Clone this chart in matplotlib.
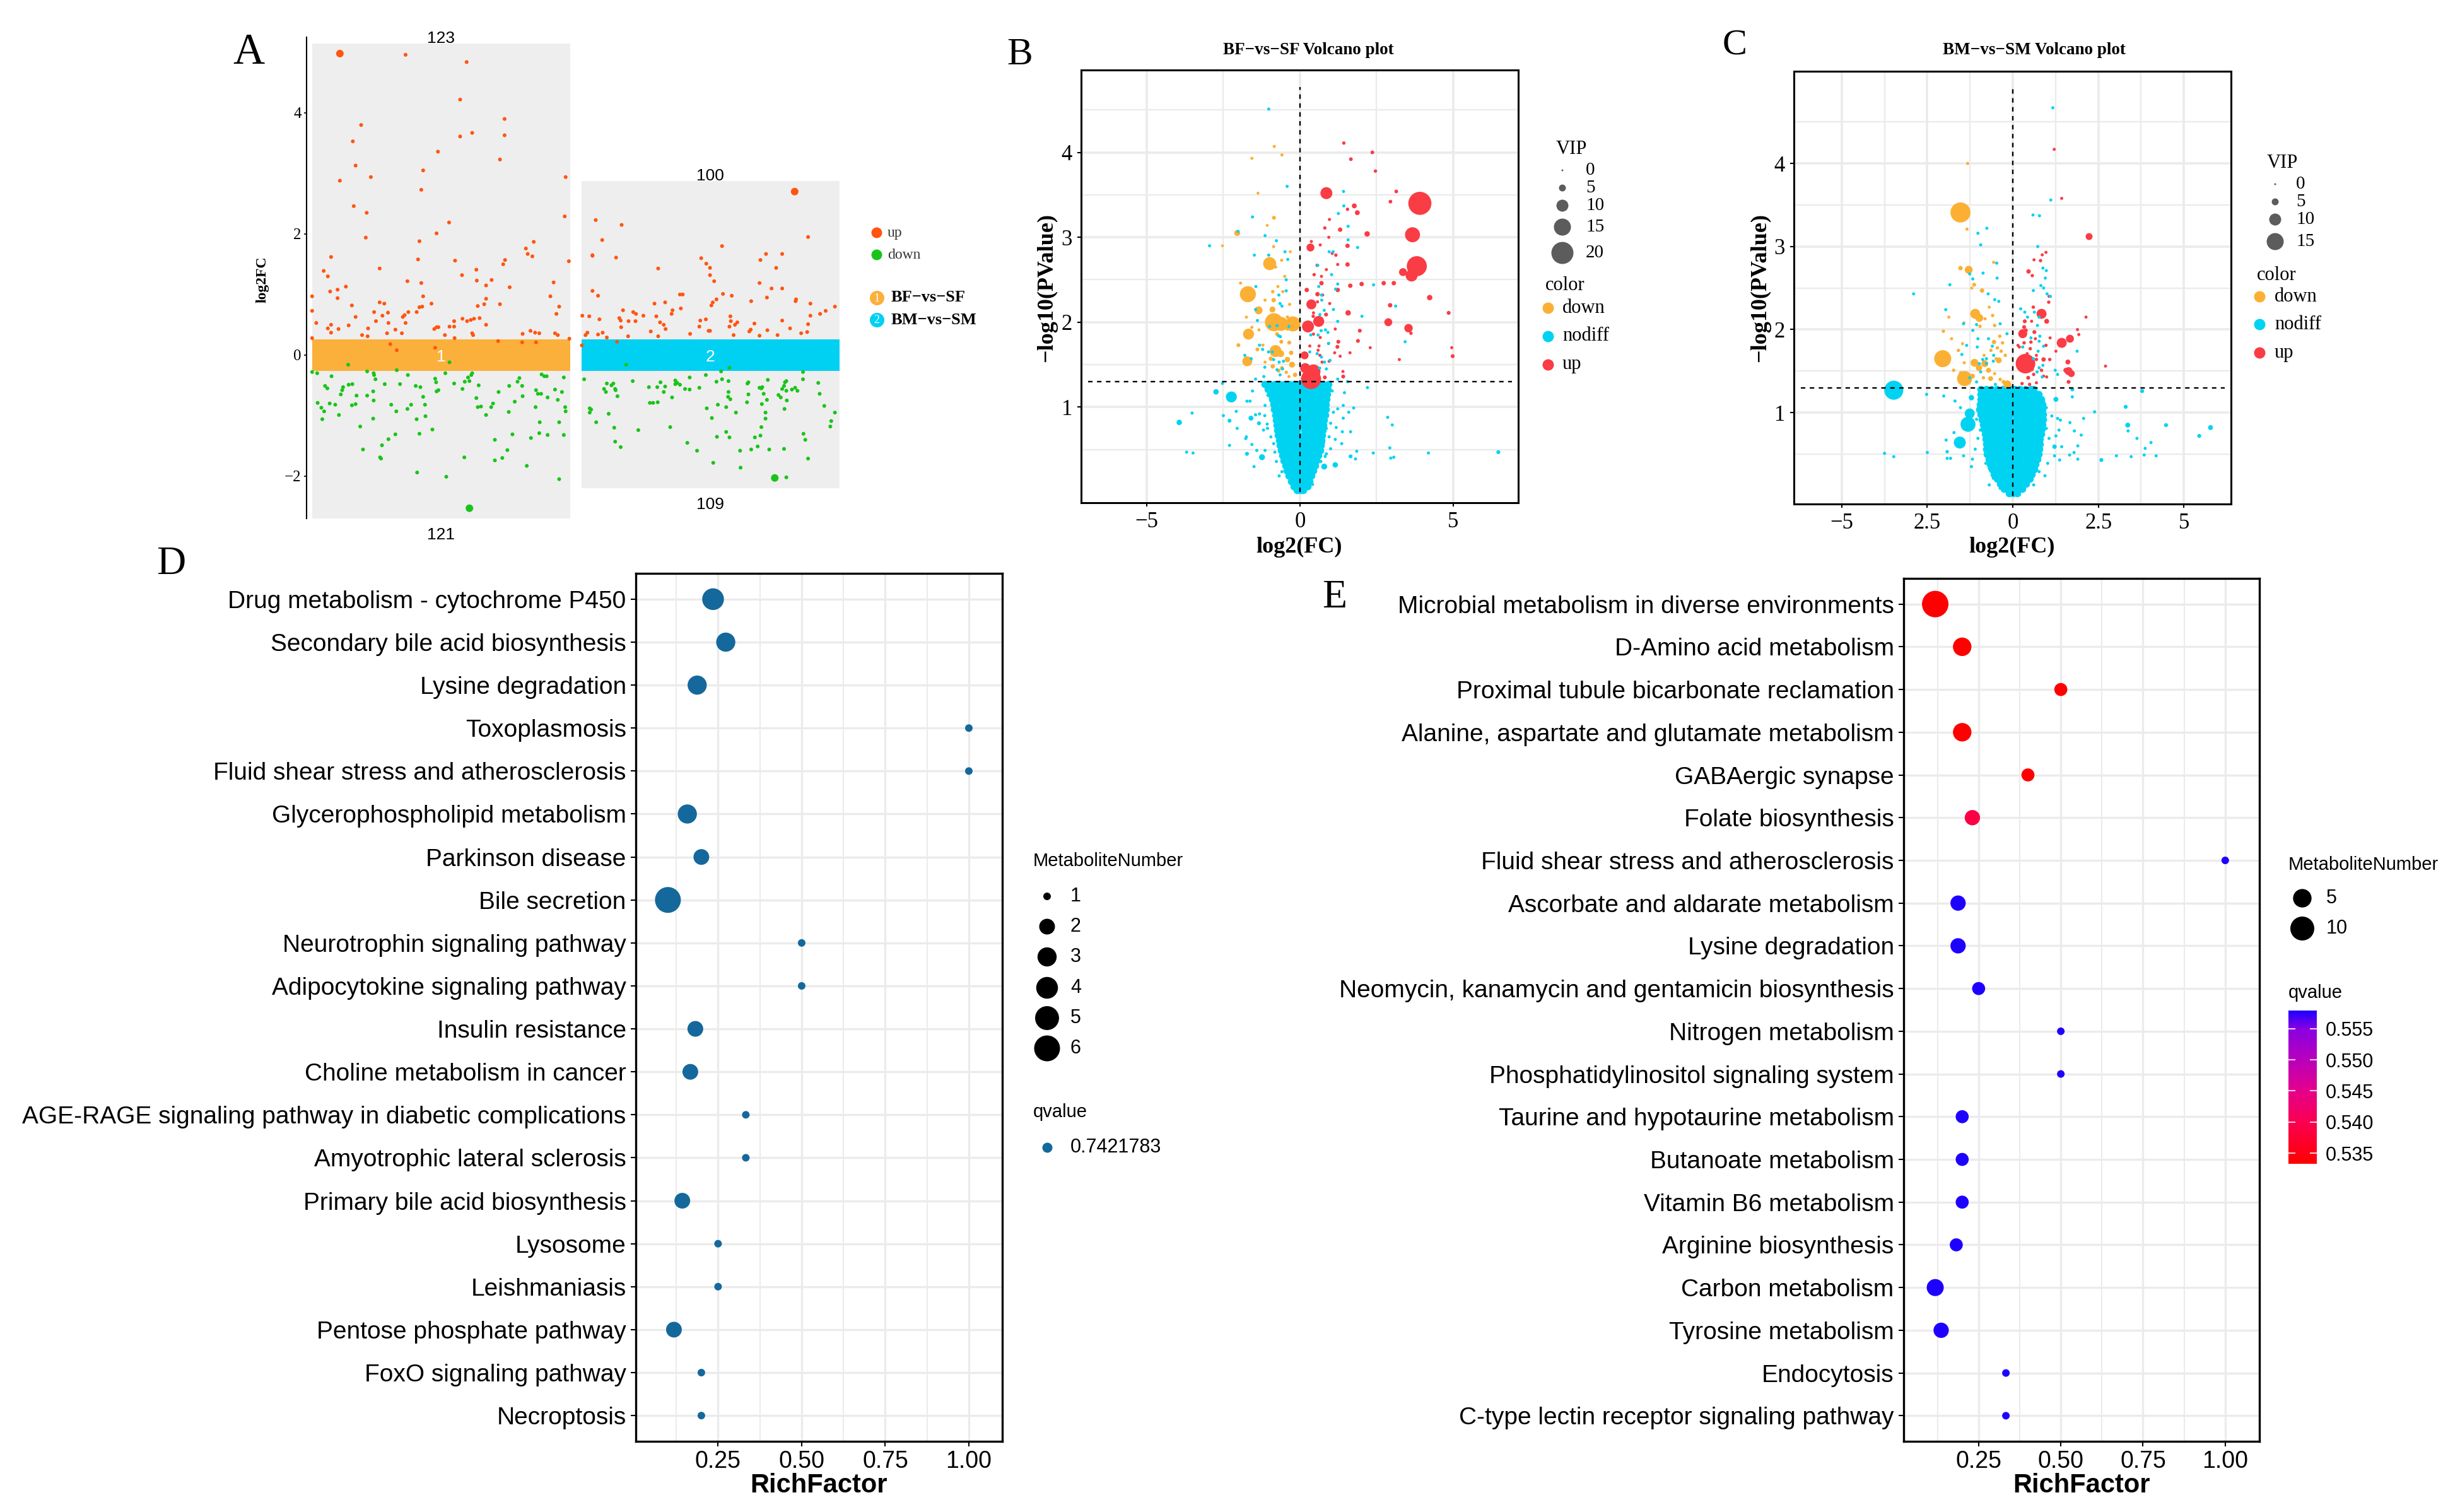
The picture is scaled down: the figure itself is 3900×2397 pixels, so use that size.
"""
Multi-panel metabolomics figure: A) up/down log2FC strip plot, B/C) volcano plots,
D/E) KEGG enrichment bubble plots.
"""

import numpy as np
import matplotlib.pyplot as plt
from matplotlib.patches import Rectangle
from matplotlib.colors import LinearSegmentedColormap, Normalize
from matplotlib.colorbar import ColorbarBase

W, H = 3900, 2397
SERIF = "Liberation Serif"
SANS = "Liberation Sans"

# ── 0. Panel A data: (metabolite index, log2FC) ───────────────────────────────
a_groups = ["BF\u2212vs\u2212SF", "BM\u2212vs\u2212SM"]
a_counts_up = [123, 100]
a_counts_down = [121, 109]

a1_up = [(60,4.98),(202,4.96),(334,4.84),(320,4.22),(106,3.80),(416,3.90),(416,3.63),(346,3.67),(320,3.61),
         (88,3.53),(272,3.36),(94,3.13),(406,3.23),(240,3.05),(127,2.94),(548,2.94),(60,2.88),(236,2.73),
         (90,2.46),(118,2.35),(546,2.29),(296,2.19),(269,2.01),(116,1.94),(232,1.88),(479,1.87),(462,1.76),
         (466,1.67),(476,1.63),(41,1.62),(309,1.56),(417,1.57),(555,1.55),(229,1.58),(413,1.50),(25,1.39),
         (34,1.30),(146,1.43),(355,1.41),(324,1.32),(356,1.23),(388,1.24),(206,1.22),(376,1.15),(73,1.13),
         (236,1.19),(427,1.12),(522,1.20),(55,1.08),(39,1.05),(0,0.97),(55,0.94),(240,0.97),(376,0.93),
         (515,0.97),(146,0.87),(156,0.85),(258,0.85),(86,0.82),(406,0.84),(372,0.84),(534,0.80),(358,0.81),
         (232,0.79),(238,0.80),(0,0.73),(134,0.71),(164,0.70),(152,0.65),(208,0.71),(226,0.71),(528,0.68),
         (200,0.66),(196,0.63),(94,0.63),(138,0.56),(325,0.60),(350,0.60),(362,0.61),(343,0.58),(335,0.56),
         (307,0.56),(9,0.53),(202,0.53),(41,0.50),(79,0.49),(165,0.53),(273,0.46),(269,0.46),(376,0.50),
         (297,0.47),(307,0.47),(34,0.44),(121,0.44),(57,0.43),(264,0.43),(41,0.37),(180,0.42),(162,0.36),
         (194,0.36),(108,0.33),(120,0.31),(287,0.33),(346,0.36),(348,0.33),(455,0.35),(472,0.40),(491,0.36),
         (525,0.36),(531,0.33),(0,0.28),(308,0.28),(556,0.27),(482,0.37),(454,0.21),(484,0.21),(402,0.23),
         (169,0.18),(266,0.12),(183,0.08)]
a1_down = [(78,-0.16),(297,-0.12),(183,-0.25),(0,-0.28),(11,-0.30),(119,-0.27),(42,-0.35),(133,-0.30),
           (134,-0.33),(207,-0.33),(288,-0.30),(346,-0.30),(344,-0.33),(337,-0.37),(266,-0.39),(330,-0.44),
           (340,-0.43),(137,-0.40),(448,-0.38),(496,-0.32),(502,-0.35),(507,-0.35),(544,-0.37),(87,-0.48),
           (79,-0.49),(157,-0.48),(190,-0.48),(268,-0.45),(307,-0.47),(360,-0.50),(444,-0.44),(28,-0.51),
           (33,-0.55),(67,-0.53),(65,-0.58),(273,-0.58),(224,-0.51),(234,-0.53),(325,-0.56),(426,-0.51),
           (454,-0.51),(484,-0.58),(525,-0.57),(132,-0.60),(269,-0.60),(403,-0.61),(488,-0.64),(495,-0.64),
           (62,-0.65),(96,-0.67),(119,-0.67),(240,-0.69),(355,-0.71),(540,-0.61),(509,-0.70),(455,-0.68),
           (531,-0.74),(438,-0.77),(133,-0.75),(12,-0.79),(38,-0.80),(86,-0.83),(94,-0.81),(50,-0.82),
           (171,-0.82),(214,-0.82),(244,-0.82),(358,-0.86),(365,-0.85),(391,-0.80),(387,-0.86),(425,-0.94),
           (483,-0.86),(547,-0.86),(20,-0.87),(26,-0.93),(206,-0.89),(182,-0.93),(548,-0.93),(22,-1.06),
           (58,-0.99),(245,-1.01),(132,-1.05),(226,-1.06),(376,-0.99),(492,-1.11),(534,-1.11),(104,-1.18),
           (260,-1.23),(491,-1.29),(509,-1.32),(544,-1.32),(433,-1.31),(180,-1.31),(232,-1.30),(473,-1.37),
           (165,-1.39),(395,-1.40),(151,-1.49),(110,-1.56),(422,-1.57),(147,-1.69),(149,-1.71),(329,-1.69),
           (395,-1.74),(411,-1.70),(464,-1.83),(227,-1.94),(290,-2.01),(534,-2.05),(340,-2.53)]
a2_up = [(1043,2.70),(613,2.23),(669,2.15),(1072,1.95),(627,1.90),(886,1.80),(606,1.65),(606,1.64),(657,1.61),
         (981,1.67),(1016,1.67),(841,1.60),(852,1.51),(860,1.44),(969,1.57),(1003,1.44),(748,1.43),(860,1.32),
         (869,1.22),(967,1.19),(993,1.10),(1016,1.10),(606,1.06),(618,0.98),(888,1.01),(907,0.98),(795,1.00),
         (801,1.00),(983,0.95),(874,0.92),(1045,0.89),(1046,0.92),(866,0.87),(863,0.82),(949,0.89),(740,0.85),
         (763,0.87),(797,0.77),(779,0.74),(1077,0.85),(1130,0.80),(672,0.74),(694,0.71),(700,0.68),(584,0.65),
         (599,0.64),(716,0.65),(744,0.64),(777,0.68),(904,0.64),(1110,0.73),(1098,0.68),(1077,0.65),(839,0.57),
         (851,0.59),(664,0.61),(667,0.57),(621,0.59),(684,0.56),(699,0.56),(752,0.54),(919,0.54),(914,0.50),
         (905,0.56),(956,0.52),(1016,0.57),(1072,0.51),(760,0.50),(668,0.46),(837,0.47),(902,0.47),(948,0.42),
         (1033,0.44),(984,0.41),(732,0.39),(764,0.43),(857,0.40),(860,0.40),(945,0.39),(1070,0.38),(1057,0.36),
         (595,0.37),(618,0.34),(628,0.37),(1006,0.33),(817,0.35),(591,0.33),(748,0.31),(911,0.33),(967,0.32),
         (683,0.31),(637,0.29),(659,0.22),(583,0.16)]
a2_down = [(679,-0.16),(902,-0.21),(884,-0.27),(1061,-0.28),(588,-0.40),(693,-0.43),(816,-0.37),(785,-0.42),
           (851,-0.33),(886,-0.40),(874,-0.44),(900,-0.43),(943,-0.45),(941,-0.47),(985,-0.41),(1022,-0.45),
           (1025,-0.43),(1061,-0.40),(1094,-0.46),(637,-0.47),(651,-0.47),(647,-0.50),(728,-0.53),(753,-0.45),
           (746,-0.53),(763,-0.52),(785,-0.48),(789,-0.46),(795,-0.49),(837,-0.54),(967,-0.54),(973,-0.53),
           (971,-0.55),(1020,-0.51),(1016,-0.56),(631,-0.56),(655,-0.56),(656,-0.58),(806,-0.56),(816,-0.57),
           (1037,-0.57),(1044,-0.54),(1049,-0.59),(1025,-0.59),(1097,-0.64),(635,-0.61),(760,-0.61),(900,-0.61),
           (976,-0.64),(943,-0.65),(660,-0.68),(1008,-0.66),(1013,-0.70),(983,-0.74),(1026,-0.75),(899,-0.69),
           (904,-0.73),(730,-0.79),(737,-0.79),(747,-0.78),(778,-0.70),(877,-0.82),(940,-0.78),(972,-0.81),
           (1107,-0.84),(895,-0.86),(853,-0.88),(1021,-0.89),(600,-0.88),(603,-0.90),(600,-0.95),(916,-0.95),
           (980,-0.95),(1130,-0.95),(641,-0.97),(864,-1.04),(980,-1.05),(1122,-1.09),(614,-1.11),(971,-1.19),
           (774,-1.19),(1120,-1.18),(653,-1.20),(705,-1.24),(895,-1.27),(1062,-1.30),(875,-1.35),(902,-1.36),
           (969,-1.33),(957,-1.36),(1066,-1.40),(655,-1.43),(811,-1.45),(963,-1.51),(667,-1.52),(949,-1.56),
           (988,-1.56),(1020,-1.55),(832,-1.58),(925,-1.58),(1072,-1.71),(867,-1.78),(926,-1.86),(1000,-2.03),
           (1025,-2.02)]

# ── 1. Panel B volcano data: (log2FC, -log10 P, VIP) ──────────────────────────
b_up = [(1.43,4.11,1.5),(2.36,4.00,1.8),(1.66,3.92,1.8),(2.46,3.78,1.5),(3.14,3.54,1.8),(0.86,3.52,10),
        (2.95,3.42,1.8),(3.91,3.40,21),(1.77,3.37,3),(1.55,3.33,1.5),(1.87,3.29,3),(0.96,3.21,1.2),
        (0.81,3.11,1.5),(1.31,3.09,2.5),(0.94,3.00,1.2),(2.19,3.04,3.5),(3.67,3.03,13),(0.37,2.95,1.2),
        (0.66,2.91,1.2),(1.55,2.90,2.5),(0.34,2.88,6),(1.05,2.81,1.2),(1.17,2.79,1.5),(0.56,2.67,1.5),
        (0.86,2.62,1.2),(1.23,2.68,1.2),(1.55,2.68,2.5),(3.81,2.66,18),(3.36,2.59,6),(3.64,2.55,10),
        (0.46,2.56,1.5),(0.70,2.54,1.2),(0.70,2.46,2.5),(1.64,2.43,2.5),(2.01,2.45,2.5),(2.73,2.46,2.5),
        (3.06,2.46,2.5),(0.22,2.38,2.5),(0.57,2.33,2.5),(1.23,2.38,2.5),(0.74,2.32,1.2),(4.23,2.29,3.5),
        (0.37,2.21,8),(0.57,2.24,1.2),(0.97,2.22,1.2),(2.94,2.20,2.5),(0.44,2.11,1.2),(0.85,2.09,2),
        (1.57,2.11,3.5),(4.85,2.11,2),(0.43,2.07,1.5),(0.61,2.01,9),(0.26,1.95,10),(2.88,2.00,6),
        (3.54,1.93,6.5),(3.62,1.87,1.5),(1.15,1.92,1.2),(1.95,1.90,2),(0.44,1.86,1.2),(0.66,1.82,1.2),
        (1.25,1.77,2),(1.89,1.78,2),(0.62,1.72,1.2),(0.32,1.72,1.2),(0.93,1.75,1.2),(1.22,1.71,2),
        (2.29,1.70,1.2),(4.95,1.70,1.2),(0.59,1.67,1.2),(1.13,1.64,1.2),(1.63,1.64,1.2),(1.31,1.60,1.2),
        (0.15,1.61,6),(4.98,1.60,2),(3.24,1.56,1.2),(0.95,1.54,1.2),(0.17,1.46,8),(0.44,1.42,12),
        (0.36,1.33,18),(0.81,1.35,2),(1.40,1.42,1.2),(1.41,1.36,2),(0.59,1.36,2),(0.72,1.53,1.2),
        (0.65,1.61,1.2)]
b_down = [(-0.84,4.07,1.2),(-0.59,3.97,1.2),(-1.57,3.93,1.2),(-1.37,3.52,1.0),(-0.85,3.23,2),(-1.07,3.14,1.0),
          (-2.05,3.05,4),(-0.86,2.89,1.2),(-2.53,2.90,1.0),(-0.32,2.83,1.0),(-0.99,2.69,11),(-0.80,2.65,1.5),
          (-0.60,2.73,1.2),(-0.50,2.54,1.2),(-1.94,2.46,1.2),(-1.70,2.33,14),(-0.72,2.42,1.2),(-0.89,2.36,1.5),
          (-0.56,2.36,1.2),(-1.14,2.26,1.2),(-0.86,2.26,2.5),(-0.34,2.21,1.2),(-1.35,2.14,6),(-0.90,2.15,4),
          (-1.75,2.06,1.2),(-0.41,2.06,1.5),(-0.85,2.00,16),(-0.62,1.98,12),(-0.23,1.98,13),(-0.41,1.93,3),
          (-1.57,1.94,1.2),(-1.68,1.86,9),(-1.34,1.91,1.2),(-0.75,1.86,2),(-0.61,1.77,2),(-0.35,1.76,2),
          (-1.21,1.73,1.2),(-2.01,1.73,2),(-0.80,1.66,10),(-0.63,1.63,5),(-1.39,1.68,2),(-0.29,1.64,2.5),
          (-1.72,1.54,8),(-0.95,1.57,2.5),(-0.41,1.56,3.5),(-0.26,1.50,4),(-0.89,1.48,2.5),(-0.59,1.46,2),
          (-0.45,1.41,1.5),(-0.16,1.38,2.5),(-0.36,1.36,1.2),(-0.70,1.43,2),(-1.14,1.53,1.2)]
b_nodiff = [(-1.02,4.51,1.2),(-0.42,3.60,1.2),(1.42,3.54,1.2),(1.43,3.37,1.2),(1.25,3.28,1.2),(1.57,3.13,1.2),
            (-1.55,3.24,1.2),(-2.02,3.07,1.2),(-1.14,3.02,1.2),(-0.77,2.96,1.2),(-2.95,2.90,1.2),(-1.49,2.79,1.2),
            (-1.02,2.79,1.2),(-0.49,2.83,1.2),(-0.40,2.74,1.2),(1.08,2.83,1.2),(0.95,2.83,1.2),(1.57,2.97,1.2),
            (1.88,2.88,1.2),(0.58,2.67,1.2),(1.03,2.56,1.2),(-0.45,2.50,1.2),(-1.44,2.42,1.2),(-0.45,2.37,1.2),
            (-0.69,2.32,1.2),(0.61,2.42,1.2),(0.70,2.32,1.2),(1.16,2.39,1.2),(1.23,2.45,1.2),(2.40,2.44,1.2),
            (3.12,2.19,1.2),(0.71,2.26,1.2),(0.65,2.09,1.2),(0.79,2.14,1.2),(1.09,2.15,1.2),(2.02,2.07,1.2),
            (1.23,2.01,1.2),(-0.65,2.22,1.2),(-0.59,2.19,1.2),(-1.45,2.15,1.2),(-1.39,2.02,1.2),(-0.99,1.95,1.2),
            (-0.75,1.96,1.2),(-0.36,1.95,1.2),(-0.70,1.84,1.2),(-0.64,1.83,1.2),(0.69,1.90,1.2),(0.83,1.91,1.2),
            (0.91,1.88,1.2),(0.35,1.85,1.2),(0.59,1.85,1.2),(0.93,1.75,1.2),(0.32,1.65,1.2),(0.56,1.63,1.2),
            (0.70,1.59,1.2),(0.98,1.55,1.2),(3.43,1.77,1.2),(-1.32,1.73,1.2),(-1.22,1.68,1.2),(-1.03,1.65,1.2),
            (-0.90,1.65,1.2),(-0.86,1.56,1.2),(-0.68,1.53,1.2),(-0.54,1.54,1.2),(-1.80,1.61,1.2),(-1.59,1.57,1.2),
            (-1.15,1.47,1.2),(-0.75,1.44,1.2),(-1.45,1.33,1.2),(-1.18,1.36,1.2),(-0.57,1.45,1.2),(-0.65,1.38,1.2),
            (0.64,1.46,1.2),(0.86,1.45,1.2),(0.80,1.53,1.2),(1.23,1.33,1.2),(1.55,1.30,1.2),(2.20,1.23,1.2),
            (-2.53,1.28,1.2),(-1.55,1.19,1.2),(-2.74,1.18,3.5),(-2.24,1.12,9),(-1.73,1.07,1.2),(-1.63,1.07,1.2),
            (1.45,1.17,1.2),(1.41,1.02,1.2),(1.75,0.99,1.2),(1.59,0.94,1.2),(-3.52,0.93,1.2),(-2.50,0.90,1.2),
            (-2.08,0.95,1.2),(-1.45,0.91,1.2),(-1.32,0.92,1.2),(-1.15,0.90,1.2),(-1.60,0.87,3),(-3.94,0.82,3.5),
            (-2.30,0.84,2),(-1.34,0.81,2),(-2.05,0.75,1.2),(-1.75,0.65,1.2),(-1.77,0.63,1.2),(-1.19,0.73,1.2),
            (-1.07,0.80,1.2),(2.86,0.88,1.2),(3.01,0.79,1.2),(1.41,0.87,1.2),(1.18,0.76,1.2),(1.38,0.71,1.2),
            (1.65,0.71,1.2),(1.15,0.62,1.2),(1.36,0.57,1.2),(-2.30,0.55,1.2),(-1.57,0.56,1.2),(-1.41,0.49,1.2),
            (-3.70,0.47,1.2),(-3.49,0.46,1.2),(-1.73,0.45,2),(-1.24,0.41,4),(-1.50,0.30,1.2),(2.93,0.52,1.2),
            (2.39,0.46,1.2),(2.96,0.40,1.2),(3.06,0.41,1.2),(1.65,0.42,2),(1.81,0.39,1.2),(1.85,0.48,1.2),
            (4.19,0.46,1.2),(6.47,0.47,2),(0.79,0.30,4),(1.15,0.32,3.5),(0.86,0.45,1.2),(1.00,0.51,1.2),
            (0.77,0.58,1.2),(1.09,0.94,1.2),(1.23,0.98,1.2),(0.90,1.10,1.2),(1.05,1.19,1.2),(0.93,1.24,1.2),
            (0.74,1.20,1.2),(-1.05,1.14,1.2),(-1.14,1.02,1.2),(-1.06,0.75,1.2),(-0.95,0.65,1.2),(-0.86,0.57,1.2),
            (-0.82,0.47,1.2),(-1.14,0.49,1.2),(-0.77,0.36,1.2),(-0.59,0.24,1.2),(-0.68,0.19,1.2),(0.41,0.09,1.2),
            (0.23,0.08,1.2),(0.68,0.36,1.2),(0.82,0.42,1.2),(0.95,0.65,1.2),(0.86,0.75,1.2),(1.00,0.81,1.2),
            (0.77,0.91,1.2)]
# dense non-significant cloud below the P threshold: one row of log2FC values per -log10 P level
b_core_y = [1.27, 1.21, 1.15, 1.09, 1.03, 0.97, 0.91, 0.85, 0.79, 0.73, 0.67,
            0.61, 0.55, 0.49, 0.43, 0.37, 0.31, 0.25, 0.19, 0.13, 0.07, 0.02]
b_core_x = [
    [-1.15,-0.99,-0.83,-0.67,-0.51,-0.35,-0.19,-0.04,0.11,0.27,0.43,0.59,0.75,0.92],
    [-1.04,-0.88,-0.72,-0.56,-0.40,-0.24,-0.08,0.12,0.28,0.44,0.60,0.76,0.90],
    [-0.97,-0.81,-0.65,-0.49,-0.33,-0.17,-0.03,0.10,0.26,0.42,0.58,0.74,0.88],
    [-0.91,-0.75,-0.59,-0.43,-0.27,-0.11,0.13,0.29,0.45,0.61,0.77,0.87],
    [-0.87,-0.71,-0.55,-0.39,-0.23,-0.07,0.12,0.28,0.44,0.60,0.76,0.85],
    [-0.84,-0.68,-0.52,-0.36,-0.20,-0.04,0.14,0.30,0.46,0.62,0.78,0.84],
    [-0.81,-0.65,-0.49,-0.33,-0.17,-0.04,0.13,0.29,0.45,0.61,0.77,0.82],
    [-0.79,-0.63,-0.47,-0.31,-0.15,-0.03,0.14,0.30,0.46,0.62,0.78],
    [-0.77,-0.61,-0.45,-0.29,-0.13,-0.03,0.13,0.29,0.45,0.61,0.77],
    [-0.75,-0.59,-0.43,-0.27,-0.11,0.14,0.30,0.46,0.62,0.75],
    [-0.71,-0.55,-0.39,-0.23,-0.07,0.13,0.29,0.45,0.61,0.73],
    [-0.68,-0.52,-0.36,-0.20,-0.05,0.14,0.30,0.46,0.62,0.71],
    [-0.65,-0.49,-0.33,-0.17,-0.03,0.13,0.29,0.45,0.61,0.68],
    [-0.62,-0.46,-0.30,-0.14,-0.03,0.12,0.28,0.44,0.58,0.65],
    [-0.57,-0.41,-0.25,-0.09,0.10,0.26,0.42,0.59],
    [-0.53,-0.37,-0.21,-0.06,0.09,0.25,0.41,0.54],
    [-0.47,-0.31,-0.15,-0.02,0.08,0.22,0.36,0.49],
    [-0.43,-0.28,-0.13,0.00,0.12,0.27,0.44],
    [-0.37,-0.23,-0.09,0.05,0.19,0.33,0.37],
    [-0.29,-0.15,-0.02,0.10,0.22,0.31],
    [-0.21,-0.08,0.05,0.17,0.24],
    [-0.11,0.00,0.11],
]

# ── 2. Panel C volcano data ───────────────────────────────────────────────────
c_up = [(1.21,4.17,1.2),(1.43,3.58,1.2),(2.23,3.12,5),(0.97,2.93,1.2),(0.86,2.90,1.2),(0.62,2.84,1.2),
        (0.81,2.83,1.5),(0.46,2.70,2.5),(0.57,2.65,1.5),(1.06,2.40,1.2),(1.05,2.33,1.5),(0.60,2.27,1.5),
        (0.84,2.19,8),(0.99,2.10,3),(0.55,2.10,1.2),(2.14,2.15,1.2),(0.35,2.10,2),(0.33,2.03,2),
        (0.29,1.95,7),(0.38,1.99,2),(1.89,2.00,1.2),(1.93,1.94,1.2),(0.63,1.97,2),(0.66,1.89,1.2),
        (1.09,1.90,1.2),(1.43,1.84,8),(1.67,1.89,6),(0.53,1.85,1.5),(0.33,1.84,1.5),(0.15,1.81,1.2),
        (0.97,1.81,1.5),(0.51,1.77,1.5),(1.26,1.74,1.2),(0.42,1.71,1.2),(0.69,1.69,1.2),(0.37,1.59,17.5),
        (0.69,1.64,1.5),(0.90,1.64,2.5),(1.08,1.64,1.5),(1.61,1.61,3),(2.71,1.56,1.2),(0.84,1.51,1.5),
        (0.90,1.44,1.2),(1.63,1.50,6),(1.55,1.51,3),(1.71,1.47,5),(0.99,1.43,1.2),(1.63,1.37,2),
        (0.45,1.42,2),(0.61,1.46,1.5),(0.27,1.35,1.5),(0.49,1.34,1.5),(0.69,1.36,1.2),(0.57,1.52,1.2),
        (0.19,1.79,1.2),(0.53,1.59,1.2),(0.22,1.54,1.5)]
c_down = [(-1.32,4.00,1.2),(-1.53,3.41,18),(-1.34,3.21,1.2),(-0.56,2.81,1.2),(-1.53,2.74,2.5),(-1.29,2.72,6),
          (-1.13,2.54,2),(-1.20,2.50,1.2),(-0.90,2.47,2.5),(-0.69,2.27,1.2),(-1.10,2.19,8),(-0.98,2.14,6),
          (-0.59,2.17,1.5),(-1.87,2.15,1.2),(-1.43,2.08,1.2),(-0.81,2.13,1.2),(-0.53,2.05,1.5),(-0.96,2.04,1.5),
          (-2.03,1.98,1.5),(-1.79,1.89,1.2),(-0.38,1.92,1.5),(-0.55,1.85,2.5),(-1.47,1.83,1.2),(-0.30,1.84,1.5),
          (-0.45,1.78,1.5),(-1.59,1.75,1.5),(-0.64,1.75,1.5),(-0.34,1.74,1.5),(-2.05,1.65,15),(-0.84,1.69,1.2),
          (-0.49,1.65,1.2),(-0.22,1.69,1.5),(-1.42,1.60,1.2),(-1.12,1.60,6),(-0.82,1.59,5),(-0.41,1.63,4),
          (-0.99,1.54,4.5),(-0.71,1.51,3),(-1.73,1.51,1.5),(-1.51,1.47,3),(-1.41,1.41,13),(-1.18,1.44,3),
          (-0.65,1.41,3),(-0.37,1.40,1.5),(-0.86,1.42,1.5),(-0.16,1.34,6),(-0.27,1.37,2),(-0.53,1.47,1.2)]
c_nodiff = [(1.17,4.67,1.2),(1.11,3.56,1.2),(0.59,3.38,1.2),(0.78,3.37,1.2),(-1.02,3.16,1.2),(-0.76,3.22,1.2),
            (-0.94,3.02,1.2),(0.73,3.00,1.2),(-0.47,2.80,1.2),(-0.87,2.68,1.2),(-1.26,2.67,1.2),(-1.17,2.61,1.2),
            (-1.84,2.54,1.2),(-0.46,2.62,1.2),(0.88,2.74,1.2),(0.98,2.71,1.2),(0.95,2.62,1.2),(0.82,2.53,1.2),
            (0.90,2.50,1.2),(0.60,2.47,1.2),(-2.90,2.43,1.2),(-0.72,2.43,1.2),(-0.53,2.36,1.2),(-0.41,2.34,1.2),
            (1.00,2.43,1.2),(1.10,2.40,1.2),(-1.96,2.24,1.2),(0.23,2.25,1.2),(0.35,2.21,1.2),(0.63,2.21,1.2),
            (0.43,2.15,1.2),(0.77,2.15,1.2),(0.72,2.05,1.2),(-1.44,2.07,1.2),(-1.06,2.06,1.2),(-1.17,1.99,1.2),
            (-0.37,2.07,1.2),(-1.02,1.89,1.2),(-0.71,1.89,1.2),(-0.17,1.95,1.2),(0.53,1.90,1.2),(0.79,1.92,1.2),
            (0.77,1.86,1.2),(0.90,1.80,1.2),(1.88,1.74,1.2),(-1.35,1.81,1.2),(-1.04,1.79,1.2),(-0.60,1.80,1.2),
            (-0.56,1.69,1.2),(-1.49,1.70,1.2),(-0.77,1.65,1.2),(-0.88,1.64,1.2),(0.29,1.79,1.2),(0.60,1.65,1.2),
            (0.74,1.74,1.2),(0.77,1.54,1.2),(0.71,1.49,1.2),(0.88,1.57,1.2),(1.24,1.51,1.2),(0.86,1.43,1.2),
            (1.31,1.46,1.2),(-0.57,1.62,1.2),(-0.77,1.59,1.2),(-0.98,1.59,1.2),(-0.94,1.49,1.2),(-1.26,1.42,1.2),
            (-1.06,1.37,1.2),(-0.51,1.34,1.2),(-3.48,1.27,17),(-2.52,1.22,1.2),(-2.02,1.20,1.2),(-1.69,1.14,1.2),
            (-1.21,1.18,3.5),(1.26,1.16,3),(1.74,1.28,2),(1.74,1.19,1.2),(3.78,1.26,2),(3.30,1.07,2),
            (2.39,1.01,1.2),(2.07,0.93,1.2),(-1.53,1.06,1.2),(-1.26,0.99,8),(-1.31,0.86,13),(-1.55,0.64,10),
            (-1.72,0.76,1.2),(-1.95,0.67,1.2),(-1.92,0.53,1.5),(-1.92,0.45,1.2),(-1.82,0.45,1.2),(-1.44,0.48,1.2),
            (-3.75,0.51,1.2),(-3.48,0.47,1.2),(-2.50,0.52,1.2),(-1.21,0.35,1.2),(3.36,0.85,3),(3.37,0.78,1.2),
            (4.48,0.85,2),(5.78,0.82,3),(5.45,0.72,2),(3.63,0.69,1.2),(4.04,0.64,1.2),(3.87,0.57,1.2),
            (3.84,0.49,1.2),(4.19,0.48,1.2),(3.46,0.47,1.2),(3.03,0.48,1.2),(2.59,0.43,2),(1.67,0.88,1.2),
            (2.00,0.73,1.2),(1.80,0.78,1.2),(1.90,0.60,1.2),(1.66,0.49,1.2),(1.79,0.52,1.2),(1.90,0.44,1.2),
            (1.43,0.59,1.2),(1.22,0.59,2.5),(1.31,0.93,1.2),(1.39,0.91,1.2),(1.35,0.79,1.2),(1.26,0.72,1.2),
            (0.98,0.81,1.2),(1.06,0.69,1.2),(1.14,0.96,1.2),(0.98,1.06,1.2),(0.90,1.14,1.2),(0.77,1.22,1.2),
            (1.37,0.43,1.2),(1.22,0.48,1.2),(1.02,0.39,1.2),(0.94,0.24,1.2),(0.77,0.29,1.2),(0.61,0.13,1.2),
            (0.49,0.21,1.2),(-0.57,0.21,1.2),(-0.69,0.33,1.2),(-0.79,0.39,1.2),(-1.18,0.44,1.2),(-1.10,0.56,1.2),
            (-1.02,0.69,1.2),(-0.95,0.79,1.2),(-1.06,0.92,1.2),(-0.69,0.13,1.2),(-0.37,0.09,1.2)]
c_core_y = [1.28, 1.22, 1.16, 1.10, 1.04, 0.98, 0.92, 0.86, 0.80, 0.74, 0.68,
            0.62, 0.56, 0.50, 0.44, 0.38, 0.32, 0.26, 0.20, 0.14, 0.08, 0.03]
c_core_x = [
    [-0.94,-0.78,-0.62,-0.46,-0.30,-0.14,-0.04,0.05,0.21,0.37,0.53,0.61],
    [-0.94,-0.78,-0.62,-0.46,-0.30,-0.14,-0.04,0.06,0.22,0.38,0.54,0.70,0.75],
    [-0.95,-0.79,-0.63,-0.47,-0.31,-0.15,-0.05,0.07,0.23,0.39,0.55,0.71,0.82],
    [-0.96,-0.80,-0.64,-0.48,-0.32,-0.16,-0.06,0.08,0.24,0.40,0.56,0.72,0.86],
    [-0.97,-0.81,-0.65,-0.49,-0.33,-0.17,-0.06,0.09,0.25,0.41,0.57,0.73,0.87],
    [-0.95,-0.79,-0.63,-0.47,-0.31,-0.15,-0.07,0.09,0.25,0.41,0.57,0.73,0.88],
    [-0.91,-0.75,-0.59,-0.43,-0.27,-0.11,0.10,0.26,0.42,0.58,0.74,0.88],
    [-0.87,-0.71,-0.55,-0.39,-0.23,-0.10,0.10,0.26,0.42,0.58,0.74,0.86],
    [-0.84,-0.68,-0.52,-0.36,-0.20,-0.09,0.09,0.25,0.41,0.57,0.73,0.84],
    [-0.82,-0.66,-0.50,-0.34,-0.18,-0.08,0.09,0.25,0.41,0.57,0.73,0.82],
    [-0.79,-0.63,-0.47,-0.31,-0.15,-0.08,0.08,0.24,0.40,0.56,0.72,0.80],
    [-0.78,-0.62,-0.46,-0.30,-0.14,-0.07,0.08,0.24,0.40,0.56,0.72,0.79],
    [-0.77,-0.61,-0.45,-0.29,-0.13,-0.06,0.07,0.23,0.39,0.55,0.71,0.78],
    [-0.75,-0.59,-0.43,-0.27,-0.11,-0.05,0.06,0.22,0.38,0.54,0.70,0.76],
    [-0.71,-0.55,-0.39,-0.23,-0.07,0.05,0.21,0.37,0.53,0.69,0.72],
    [-0.66,-0.50,-0.34,-0.18,-0.04,0.04,0.20,0.36,0.52,0.67],
    [-0.61,-0.45,-0.29,-0.13,-0.02,0.05,0.21,0.37,0.53,0.62],
    [-0.55,-0.39,-0.23,-0.07,0.03,0.19,0.35,0.51,0.56],
    [-0.47,-0.31,-0.15,0.00,0.14,0.30,0.46,0.49],
    [-0.37,-0.22,-0.07,0.08,0.23,0.38],
    [-0.25,-0.11,0.03,0.15,0.27],
    [-0.12,0.00,0.12],
]
CORE_VIP = 5.4
SIG_Y = 1.301   # -log10(0.05)

# ── 3. Panel D/E enrichment data ──────────────────────────────────────────────
d_pathways = ["Drug metabolism - cytochrome P450", "Secondary bile acid biosynthesis", "Lysine degradation",
              "Toxoplasmosis", "Fluid shear stress and atherosclerosis", "Glycerophospholipid metabolism",
              "Parkinson disease", "Bile secretion", "Neurotrophin signaling pathway",
              "Adipocytokine signaling pathway", "Insulin resistance", "Choline metabolism in cancer",
              "AGE-RAGE signaling pathway in diabetic complications", "Amyotrophic lateral sclerosis",
              "Primary bile acid biosynthesis", "Lysosome", "Leishmaniasis", "Pentose phosphate pathway",
              "FoxO signaling pathway", "Necroptosis"]
d_rich = [0.235, 0.273, 0.1875, 1.0, 1.0, 0.158, 0.2, 0.1, 0.5, 0.5,
          0.182, 0.167, 0.333, 0.333, 0.143, 0.25, 0.25, 0.118, 0.2, 0.2]
d_count = [4, 3, 3, 1, 1, 3, 2, 6, 1, 1, 2, 2, 1, 1, 2, 1, 1, 2, 1, 1]
d_qvalue = 0.7421783

e_pathways = ["Microbial metabolism in diverse environments", "D-Amino acid metabolism",
              "Proximal tubule bicarbonate reclamation", "Alanine, aspartate and glutamate metabolism",
              "GABAergic synapse", "Folate biosynthesis", "Fluid shear stress and atherosclerosis",
              "Ascorbate and aldarate metabolism", "Lysine degradation",
              "Neomycin, kanamycin and gentamicin biosynthesis", "Nitrogen metabolism",
              "Phosphatidylinositol signaling system", "Taurine and hypotaurine metabolism",
              "Butanoate metabolism", "Vitamin B6 metabolism", "Arginine biosynthesis", "Carbon metabolism",
              "Tyrosine metabolism", "Endocytosis", "C-type lectin receptor signaling pathway"]
e_rich = [0.118, 0.2, 0.5, 0.2, 0.4, 0.231, 1.0, 0.1875, 0.1875, 0.25,
          0.5, 0.5, 0.2, 0.2, 0.2, 0.182, 0.118, 0.136, 0.333, 0.333]
e_count = [13, 5, 2, 5, 2, 3, 1, 3, 3, 2, 1, 1, 2, 2, 2, 2, 4, 3, 1, 1]
e_qvalue = [0.5333, 0.5333, 0.5333, 0.5333, 0.5333, 0.5390, 0.5579, 0.5579, 0.5579, 0.5579,
            0.5579, 0.5579, 0.5579, 0.5579, 0.5579, 0.5579, 0.5579, 0.5579, 0.5579, 0.5579]
e_q_ticks = [0.535, 0.540, 0.545, 0.550, 0.555]

# ── 4. Colours ────────────────────────────────────────────────────────────────
A_UP, A_DOWN = "#FF5511", "#19C419"
A_BAND = ["#FBB03B", "#00D0F2"]
PANEL_GREY = "#EEEEEE"
V_UP, V_DOWN, V_NODIFF = "#FA3C45", "#FBB034", "#00D3F2"
GRID = "#EBEBEB"
D_COLOR = "#15689B"
q_cmap = LinearSegmentedColormap.from_list(
    "qv", [(0.0, "#FF0000"), (0.27, "#FA0050"), (0.48, "#E4008C"),
           (0.68, "#B800BC"), (0.88, "#8A00E0"), (1.0, "#1E00FF")])
q_norm = Normalize(0.5333, 0.5579)


def box(left, top, right, bottom):
    return [left / W, 1 - bottom / H, (right - left) / W, (bottom - top) / H]


def vip_area(v):
    d = 3 + 1.6 * np.asarray(v, float)          # marker diameter in px
    return (d * 0.72) ** 2


def count_area(n, nmax, r0, r1):
    n = np.asarray(n, float)
    d = r0 + np.sqrt((n - 1) / (nmax - 1)) * (r1 - r0)
    return (d * 0.72) ** 2


fig = plt.figure(figsize=(39, 23.97), dpi=100)
fig.patch.set_facecolor("white")

# overlay in pixel coordinates for legends and free text
ov = fig.add_axes([0, 0, 1, 1], zorder=10)
ov.set_xlim(0, W)
ov.set_ylim(H, 0)
ov.axis("off")
ov.patch.set_alpha(0)

# ── 5. Panel A ────────────────────────────────────────────────────────────────
PANEL_W, PANEL_GAP = 558, 24
axA = fig.add_axes(box(486, 59, 1331, 822))
axA.set_xlim(-12, 2 * PANEL_W + PANEL_GAP)
axA.set_ylim(-2.70, 5.25)
for sp in ("top", "right", "bottom"):
    axA.spines[sp].set_visible(False)
axA.spines["left"].set_linewidth(1.5)
axA.set_xticks([])
axA.set_yticks([-2, 0, 2, 4])
axA.tick_params(axis="y", length=3, width=1.2, labelsize=18, labelfontfamily=SERIF, pad=3)

for i, (up, down) in enumerate([(a1_up, a1_down), (a2_up, a2_down)]):
    x0 = i * (PANEL_W + PANEL_GAP)
    ux, uy = zip(*up)
    dx, dy = zip(*down)
    top, bottom = max(uy) + 0.17, min(dy) - 0.17
    axA.add_patch(Rectangle((x0, bottom), PANEL_W, top - bottom, color=PANEL_GREY, lw=0, zorder=0))
    axA.add_patch(Rectangle((x0, -0.26), PANEL_W, 0.52, color=A_BAND[i], lw=0, zorder=1))
    axA.text(x0 + PANEL_W / 2, -0.03, str(i + 1), color="white", fontsize=19, family=SANS,
             ha="center", va="center", zorder=1.5)
    for xs, ys, col in ((ux, uy, A_UP), (dx, dy, A_DOWN)):
        ys = np.array(ys)
        sizes = np.full(len(ys), (6 * 0.72) ** 2)
        sizes[np.argmax(np.abs(ys))] = (12 * 0.72) ** 2
        axA.scatter(xs, ys, s=sizes, color=col, lw=0, zorder=2)
    axA.text(x0 + PANEL_W / 2, top + 0.01, str(a_counts_up[i]), fontsize=19, family=SANS,
             ha="center", va="baseline", clip_on=False)
    axA.text(x0 + PANEL_W / 2, bottom - 0.15, str(a_counts_down[i]), fontsize=19, family=SANS,
             ha="center", va="top", clip_on=False)

ov.text(416, 443, "log2FC", rotation=90, fontsize=17, family=SERIF, weight="bold",
        ha="center", va="center")
ov.scatter([1390, 1390], [369, 404], s=(17 * 0.72) ** 2, color=[A_UP, A_DOWN], lw=0)
ov.text(1407, 369, "up", fontsize=17, family=SERIF, color="#333333", va="center")
ov.text(1407, 404, "down", fontsize=17, family=SERIF, color="#333333", va="center")
for k, (yy, name) in enumerate(zip([472, 507], a_groups)):
    ov.scatter([1390], [yy], s=(23 * 0.72) ** 2, color=A_BAND[k], lw=0)
    ov.text(1390, yy + 1, str(k + 1), fontsize=13, family=SERIF, color="white",
            ha="center", va="center")
    ov.text(1413, yy, name, fontsize=19, family=SERIF, weight="bold", va="center")


# ── 6. Panels B and C (volcano) ───────────────────────────────────────────────
def draw_volcano(rect, xlim, ylim, xmaj, xlabels, xmin, core_y, core_x, down, up, nodiff, v_top, h_half):
    ax = fig.add_axes(rect)
    ax.set_xlim(*xlim)
    ax.set_ylim(*ylim)
    ax.set_xticks(xmaj)
    ax.set_xticklabels(xlabels)
    ax.set_xticks(xmin, minor=True)
    ax.set_yticks([1, 2, 3, 4])
    ax.set_yticks([0.5, 1.5, 2.5, 3.5, 4.5], minor=True)
    ax.set_axisbelow(True)
    ax.grid(which="major", color=GRID, lw=2.6)
    ax.grid(which="minor", color=GRID, lw=1.7)
    ax.tick_params(which="major", length=4, width=1.5, labelsize=25, labelfontfamily=SERIF, pad=6)
    ax.tick_params(which="minor", length=0)
    for sp in ax.spines.values():
        sp.set_linewidth(2.2)
    cx = [x for row in core_x for x in row]
    cy = [y for y, row in zip(core_y, core_x) for _ in row]
    ax.scatter(cx, cy, s=vip_area(CORE_VIP), color=V_NODIFF, lw=0, zorder=2)
    for pts, col, z in ((down, V_DOWN, 3), (up, V_UP, 3), (nodiff, V_NODIFF, 4)):
        x, y, v = zip(*pts)
        ax.scatter(x, y, s=vip_area(v), color=col, lw=0, zorder=z)
    ax.vlines(0, 0, v_top, colors="black", linestyles=(0, (3, 3)), lw=1.7, zorder=5)
    ax.hlines(SIG_Y, -h_half, h_half, colors="black", linestyles=(0, (3, 3)), lw=1.7, zorder=5)
    return ax


draw_volcano(box(1714, 111, 2407, 797), (-7.14, 7.12), (-0.126, 4.97),
             [-5, 0, 5], ["\u22125", "0", "5"], [-2.5, 2.5],
             b_core_y, b_core_x, b_down, b_up, b_nodiff, 4.77, 6.91)
draw_volcano(box(2844, 113, 3537, 799), (-6.40, 6.38), (-0.10, 5.11),
             [-5, -2.5, 0, 2.5, 5], ["\u22125", "2.5", "0", "2.5", "5"], [-3.75, -1.25, 1.25, 3.75],
             c_core_y, c_core_x, c_down, c_up, c_nodiff, 4.94, 6.20)

for cx_, title in ((2074, "BF\u2212vs\u2212SF Volcano plot"), (3225, "BM\u2212vs\u2212SM Volcano plot")):
    ov.text(cx_, 79, title, fontsize=19.5, family=SERIF, weight="bold", ha="center", va="center")
for xl, yl_x in ((2060, 1660), (3190, 2791)):
    ov.text(xl, 867, "log2(FC)", fontsize=26, family=SERIF, weight="bold", ha="center", va="center")
    ov.text(yl_x, 456, "\u2212log10(PValue)", fontsize=26, family=SERIF, weight="bold",
            rotation=90, ha="center", va="center")

# volcano legends
vip_legends = [
    (2467, 236, 2477, 2514, [0, 5, 10, 15, 20], [270, 298, 326, 360, 401], 2454, 2477, 453, [488, 533, 578]),
    (3594, 259, 3607, 3640, [0, 5, 10, 15], [292, 320, 348, 383], 3582, 3606, 437, [470, 514, 559]),
]
for (tx, ty, cx_, lx, vals, ys, ccx, ctx, cty, cys) in vip_legends:
    ov.text(tx, ty, "VIP", fontsize=22, family=SERIF, va="center")
    ov.scatter([cx_] * len(vals), ys, s=vip_area(vals), color="#5C5C5C", lw=0)
    for v, yy in zip(vals, ys):
        ov.text(lx, yy, str(v), fontsize=21, family=SERIF, va="center")
    ov.text(ccx - 4, cty, "color", fontsize=22, family=SERIF, va="center")
    for yy, col, lab in zip(cys, (V_DOWN, V_NODIFF, V_UP), ("down", "nodiff", "up")):
        ov.scatter([ccx], [yy], s=(18 * 0.72) ** 2, color=col, lw=0)
        ov.text(ctx, yy, lab, fontsize=22, family=SERIF, va="center")


# ── 7. Panels D and E (enrichment bubbles) ────────────────────────────────────
def draw_enrich(rect, xlim, names, rich, count, colors, nmax, r0, r1):
    ax = fig.add_axes(rect)
    n = len(names)
    ypos = np.arange(n, 0, -1)
    ax.set_xlim(*xlim)
    ax.set_ylim(0.4, n + 0.6)
    ax.set_axisbelow(True)
    ax.set_yticks(ypos)
    ax.set_yticklabels(names)
    ax.set_xticks([0.25, 0.5, 0.75, 1.0])
    ax.set_xticklabels(["0.25", "0.50", "0.75", "1.00"])
    ax.set_xticks([0.125, 0.375, 0.625, 0.875], minor=True)
    ax.grid(which="major", color=GRID, lw=2.4)
    ax.grid(which="minor", axis="x", color=GRID, lw=1.5)
    ax.tick_params(which="major", length=6, width=1.5, labelfontfamily=SANS, pad=5)
    ax.tick_params(axis="y", labelsize=28)
    ax.tick_params(axis="x", labelsize=27, pad=4)
    ax.tick_params(which="minor", length=0)
    for sp in ax.spines.values():
        sp.set_linewidth(2.4)
    ax.scatter(rich, ypos, s=count_area(count, nmax, r0, r1), c=colors, lw=0, zorder=3)
    return ax


draw_enrich(box(1008, 909, 1589, 2285), (0.004, 1.10), d_pathways, d_rich, d_count,
            [D_COLOR] * len(d_rich), 6, 12, 41)
draw_enrich(box(3018, 917, 3582, 2285), (0.022, 1.104), e_pathways, e_rich, e_count,
            q_cmap(q_norm(e_qvalue)), 13, 12, 42)

ov.text(1298, 2355, "RichFactor", fontsize=30, family=SANS, weight="bold", ha="center", va="center")
ov.text(3300, 2355, "RichFactor", fontsize=30, family=SANS, weight="bold", ha="center", va="center")

# D legend
ov.text(1638, 1365, "MetaboliteNumber", fontsize=21, family=SANS, va="center")
d_leg = [1, 2, 3, 4, 5, 6]
d_leg_y = [1421, 1469, 1517, 1566, 1614, 1662]
ov.scatter([1660] * 6, d_leg_y, s=count_area(d_leg, 6, 12, 41), color="black", lw=0)
for v, yy in zip(d_leg, d_leg_y):
    ov.text(1697, yy, str(v), fontsize=22, family=SANS, va="center")
ov.text(1638, 1763, "qvalue", fontsize=21, family=SANS, va="center")
ov.scatter([1660], [1819], s=(16 * 0.72) ** 2, color=D_COLOR, lw=0)
ov.text(1697, 1819, str(d_qvalue), fontsize=22, family=SANS, va="center")

# E legend
ov.text(3628, 1371, "MetaboliteNumber", fontsize=21, family=SANS, va="center")
e_leg = [5, 10]
e_leg_y = [1424, 1472]
ov.scatter([3650] * 2, e_leg_y, s=count_area(e_leg, 13, 12, 42), color="black", lw=0)
for v, yy in zip(e_leg, e_leg_y):
    ov.text(3688, yy, str(v), fontsize=22, family=SANS, va="center")
ov.text(3628, 1574, "qvalue", fontsize=21, family=SANS, va="center")
cax = fig.add_axes(box(3628, 1602, 3673, 1845))
cb = ColorbarBase(cax, cmap=q_cmap, norm=q_norm, orientation="vertical")
cb.outline.set_visible(False)
cb.set_ticks(e_q_ticks)
cb.set_ticklabels([f"{t:.3f}" for t in e_q_ticks])
cax.tick_params(length=0, labelsize=22, pad=10, labelfontfamily=SANS)
for t in e_q_ticks:
    cax.plot([0, 0.22], [t, t], color="white", lw=1.5, alpha=0.8)
    cax.plot([0.78, 1], [t, t], color="white", lw=1.5, alpha=0.8)
cax.set_xlim(0, 1)

# ── 8. Panel letters ──────────────────────────────────────────────────────────
for letter, x, y, fs in (("A", 394, 84, 50), ("B", 1617, 87, 44), ("C", 2750, 72, 42),
                         ("D", 271, 895, 46), ("E", 2116, 948, 46)):
    ov.text(x, y, letter, fontsize=fs, family=SERIF, ha="center", va="center")

fig.savefig("out.png", dpi=100)
